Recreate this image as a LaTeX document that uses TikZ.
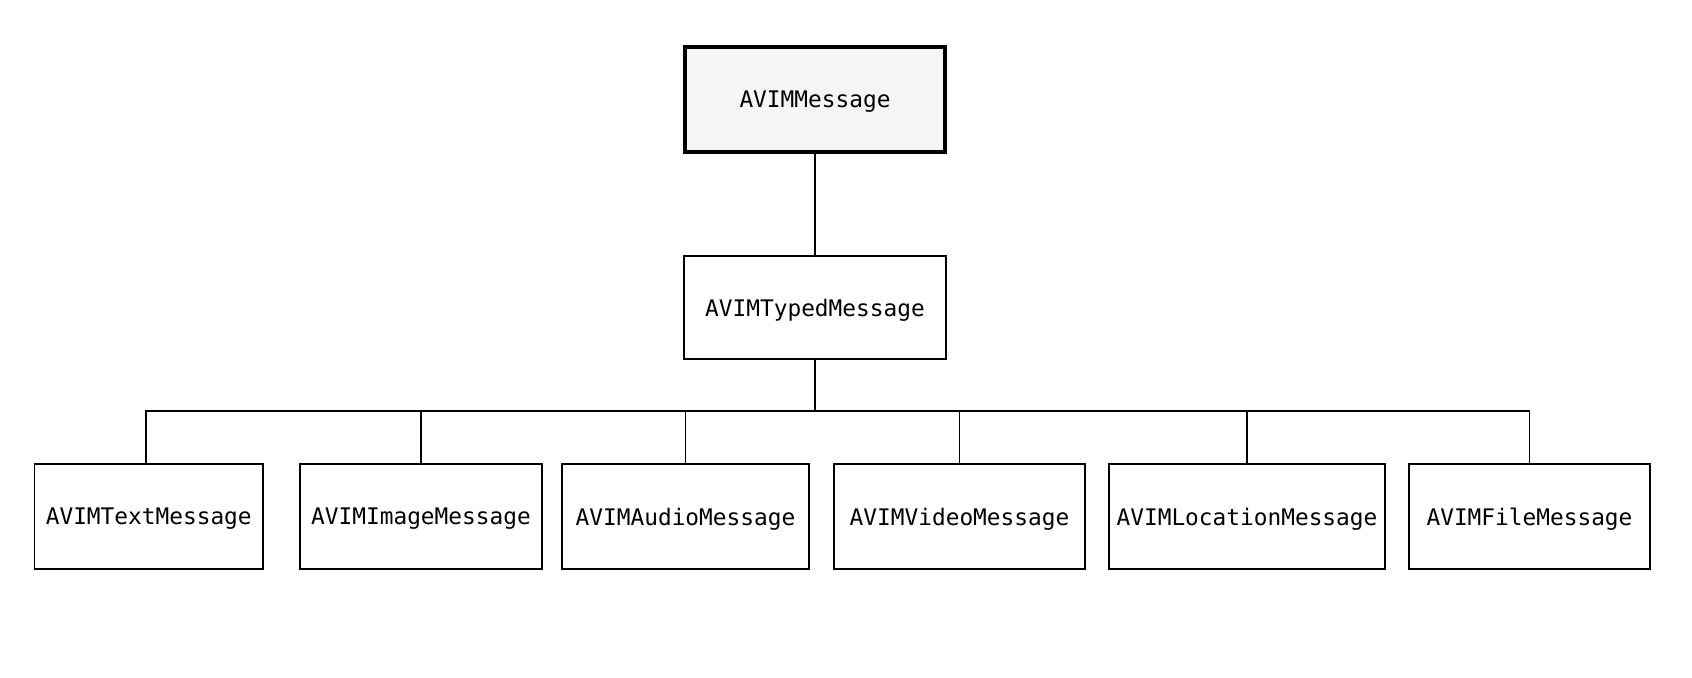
\documentclass[tikz,border=0pt]{standalone}
\usepackage{fontspec}
\newfontfamily\dmono{DejaVu Sans Mono}
\begin{document}
\begin{tikzpicture}[x=0.5pt,y=-0.5pt,
  box/.style={draw=black,line width=0.75pt,fill=white,inner sep=0pt,outer sep=0pt,
    minimum height=52.5pt,text depth=0pt,font=\dmono\fontsize{11.4}{14}\selectfont},
  rootbox/.style={box,line width=1.8pt,fill=gray!8},
  link/.style={draw=black,line width=0.75pt},
  buslink/.style={draw=black,line width=1.3pt}]
\useasboundingbox (0,0) rectangle (1692,677);
\node[rootbox,minimum width=130pt] (msg) at (815,99.5) {AVIMMessage};
\node[box,minimum width=131pt,minimum height=51.5pt] (typed) at (815,307.5) {AVIMTypedMessage};
\node[box,minimum width=114.25pt] (text) at (148.75,516.5) {AVIMTextMessage};
\node[box,minimum width=121pt] (image) at (421,516.5) {AVIMImageMessage};
\node[box,minimum width=123.5pt] (audio) at (685.5,516.5) {AVIMAudioMessage};
\node[box,minimum width=125.5pt] (video) at (959.5,516.5) {AVIMVideoMessage};
\node[box,minimum width=138pt] (location) at (1247,516.5) {AVIMLocationMessage};
\node[box,minimum width=120.5pt] (file) at (1529.5,516.5) {AVIMFileMessage};
\coordinate (bus) at (815,411);
\coordinate (textin) at ([xshift=-1.4pt]text.north);
\draw[link] (msg.south) -- (typed.north);
\draw[link] (textin) -- (textin |- bus) -- (file.north |- bus) -- (file.north);
\draw[buslink] (image.north |- bus) -- (location.north |- bus);
\draw[buslink] (typed.south) -- (bus);
\foreach \n in {image,audio,video,location}
  \draw[link] (\n.north) -- (\n.north |- bus);
\end{tikzpicture}
\end{document}
